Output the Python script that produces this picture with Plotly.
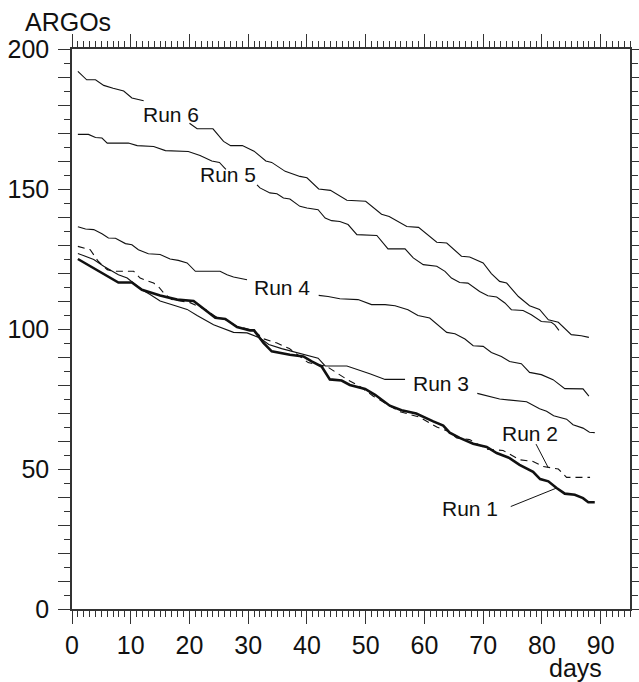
import plotly.graph_objects as go

# ---- data (days, number of ARGO floats) ----
run6_x = [1, 2.5, 4, 5.4, 7, 8.8, 10.2, 12.2, None,
          20, 21.3, 24, 25.8, 27, 29, 31, 33, 34, 36.3, 38.8, 40, 42, 44, 46.8, 50,
          52.7, 54, 57, 59, 62.1, 63.8, 66.3, 67.7, 70, 71.4, 72.8, 74, 76, 77.9,
          79.6, 81.1, 82.8, 85, 86.7, 88]
run6_y = [192, 189, 189, 187, 186, 185, 182.5, 181.5, None,
          173.5, 171.5, 171.5, 167, 165.5, 165.5, 163.5, 160, 159.5, 156.3, 154.5, 154, 150, 149.5, 146, 145.6,
          141, 140.2, 136.6, 136.3, 131, 130.7, 126, 125.7, 123.6, 119.8, 117, 116.4, 111.6, 108.3,
          107, 103.3, 102.4, 98, 97.6, 97]

run5_x = [1, 2.8, 4, 5.1, 6, 9.6, 11.1, 13.9, 15.9, 19.8, 21.8, 23.8, 25.1, 26.2, None,
          31.5, 32, 33.7, 34.9, 36, 37.1, 38.8, 40, 41.9, 43.1, 44.2, 45.6, 47, 48.5, 51.9,
          53.8, 56.7, 58.1, 59.8, 61, 62.1, 63.5, 64.6, 66, 67.4, 69.4, 70.8, 72.3, 73.7,
          74.8, 76.8, 78.2, 79.9, 81.6, 82.2, 82.9]
run5_y = [169.5, 169.5, 168.4, 168.2, 166.4, 166.4, 165.5, 165.2, 163.7, 163.4, 162, 160, 159.5, 157, None,
          151.5, 150.4, 148.6, 148.3, 146.8, 146.4, 143.8, 143.2, 142.6, 139.6, 138.7, 138.4, 137.3, 133.7, 133.4,
          128.6, 128.6, 125.4, 123, 122.6, 122.4, 120.6, 118.2, 116.6, 116.4, 113.4, 111.9, 111.4, 109.3,
          106.9, 106.6, 105.1, 102.7, 102.4, 101.5, 99.5]

run4_x = [1, 2.3, 3.7, 5.1, 6.2, 7.4, 9.1, 10.2, 11.3, 13, 15, 16.7, 18.1, 19.6, 21, 25.2, 26.4, 27.5, 29.8, None,
          42, 43.6, 45.6, 48.7, 51, 53.3, 55, 57.2, 58.9, 60.9, 63.8, 65.2, 66.9, 68.3, 70, 71.4,
          73.1, 74.5, 76.5, 77.9, 79.9, 81.9, 83.9, 87, 88]
run4_y = [136.5, 135.7, 135.5, 134, 132.5, 132.4, 130.5, 130.1, 128.3, 126.9, 126.6, 125, 124.5, 123.6, 120.6, 120.6, 119.4, 118.6, 117.6, None,
          112, 111.6, 110.8, 110.5, 108.7, 108.7, 108.3, 106.9, 104.8, 103.9, 98.8, 98.3, 96.4, 94, 93.8, 91.6,
          90.2, 88.4, 87.6, 84.5, 83.7, 81.9, 78.7, 78.6, 76]

run3_x = [1, 2.3, 3.7, 5.4, 6.5, 7.9, 9.4, 10.5, 11.9, 13.3, 15, 17.6, 19.6, 21.3, 24.1, 27.5, 29.8, 32,
          33.5, 35.7, 38.8, 41.9, 43.1, 46.8, 50.7, 53.3, 56.7, None,
          69, 72.8, 77.4, 79.6, 80.8, 82, 84.2, 85.3, 87, 88.1, 89]
run3_y = [127, 126, 124.8, 122.4, 121.2, 119.4, 118.2, 116.4, 114, 112.3, 110, 108.3, 107, 104.8, 101.5, 98.8, 98.6, 96.8,
          94.5, 93, 91.2, 89.6, 86.8, 86.8, 84, 82, 82, None,
          77, 75, 74, 71.5, 70.6, 69, 67.8, 65.8, 64.6, 63.1, 63]

run2_x = [1, 2.5, 3.1, 4.5, 6, 7.1, 10.5, 11.6, 13.9, 14.7, 15.6, 17, 20, 22.7, 24.4, 26, 28, 30.9,
          32.6, 34.9, 37, 40.2, 43.4, 46.8, 49, 51.3, 53, 55.8, 59.2, 62.1, 64, 65.5, 67.7,
          70.6, 73.4, 76.2, 78.5, 80.2, 82.8, 84.2, 88.2]
run2_y = [129.5, 128.5, 128.3, 124.1, 121.2, 120.6, 120.6, 118.2, 116.4, 115.2, 112.9, 110.5, 109.5, 107, 104.5, 103.5, 101, 99.5,
          96.5, 95, 93, 88, 86.6, 82, 79.5, 76, 74, 70.5, 68.5, 65, 63.5, 61.1, 60.5,
          57.1, 56.6, 53.3, 52.7, 50.9, 50, 47, 47]

run1_x = [1, 3.1, 6.2, 7.9, 10.2, 11.9, 15, 16.2, 17.9, 20.7, 22.7, 24.4, 26.1, 28.1, 30.3, 31, 32.6, 34,
          37.1, 39.4, 40.8, 42.5, 43.9, 45.9, 47.3, 49.9, 51.6, 54.1, 56.1, 58.6, 61.5, 63.2, 64.3,
          66, 68.3, 70.6, 72.3, 74.5, 76.2, 78.5, 79.7, 81.1, 82.5, 83.9, 85.6, 87, 87.9, 89]
run1_y = [125, 122.4, 118.8, 116.6, 116.6, 114, 112, 111.4, 110.5, 110, 106.7, 104, 103.6, 100.7, 99.5, 99.5, 95, 92,
          90.8, 90.2, 88.4, 86.6, 82, 81.6, 80, 78.6, 76.5, 72.6, 71, 69.8, 67, 65.5, 63,
          61.1, 59, 57.9, 55.7, 53.9, 51.5, 49, 46.4, 45.6, 43.2, 41.2, 40.8, 39.6, 38.1, 38.1]

run_labels = ["Run 1", "Run 2", "Run 3", "Run 4", "Run 5", "Run 6"]
label_x = [67.8, 77.9, 62.9, 35.7, 26.6, 16.9]
label_y = [35.8, 62.6, 80.5, 114.9, 155.1, 176.5]
leader_from = [(74.7, 36.6), (79.0, 58.9)]
leader_to = [(82.5, 43.2), (81.1, 50.4)]

y_tickvals = list(range(0, 201, 10))
y_ticktext = [str(v) if v % 50 == 0 else "" for v in y_tickvals]

FONT = "Liberation Sans, Arial, Helvetica, sans-serif"
INK = "#111111"

fig = go.Figure()
thin = dict(color=INK, width=1.1)
for xs, ys in [(run6_x, run6_y), (run5_x, run5_y), (run4_x, run4_y), (run3_x, run3_y)]:
    fig.add_trace(go.Scatter(x=xs, y=ys, mode="lines", line=thin, connectgaps=False,
                             showlegend=False, hoverinfo="skip"))
fig.add_trace(go.Scatter(x=run2_x, y=run2_y, mode="lines",
                         line=dict(color=INK, width=1.1, dash="7px,5px"),
                         showlegend=False, hoverinfo="skip"))
fig.add_trace(go.Scatter(x=run1_x, y=run1_y, mode="lines",
                         line=dict(color=INK, width=2.6),
                         showlegend=False, hoverinfo="skip"))

for t, lx, ly in zip(run_labels, label_x, label_y):
    fig.add_annotation(x=lx, y=ly, xref="x", yref="y", text=t, showarrow=False,
                       font=dict(family=FONT, size=21, color=INK))
for (x0, y0), (x1, y1) in zip(leader_from, leader_to):
    fig.add_shape(type="line", x0=x0, y0=y0, x1=x1, y1=y1, xref="x", yref="y",
                  line=dict(color=INK, width=1))

W, H = 639, 682
ml, mr, mt, mb = 72, 9, 49, 73
pw, ph = W - ml - mr, H - mt - mb

fig.add_annotation(x=(23 - ml) / pw, y=(H - mb - 22) / ph, xref="paper", yref="paper",
                   text="ARGOs", showarrow=False, xanchor="left", yanchor="middle",
                   font=dict(family=FONT, size=25, color=INK))
fig.add_annotation(x=(575 - ml) / pw, y=(H - mb - 668) / ph, xref="paper", yref="paper",
                   text="days", showarrow=False, xanchor="center", yanchor="middle",
                   font=dict(family=FONT, size=25, color=INK))

axis_common = dict(showgrid=False, zeroline=False, showline=True, linecolor="#333333",
                   linewidth=1.5, ticks="outside", tickcolor="#333333", tickwidth=1.2,
                   mirror="allticks", automargin=False,
                   tickfont=dict(family=FONT, size=25, color=INK))

fig.update_xaxes(range=[0, 95], tick0=0, dtick=10, ticklen=13,
                 minor=dict(dtick=1, tick0=0, ticklen=6, ticks="outside", tickcolor="#333333", tickwidth=1),
                 **axis_common)
fig.update_yaxes(range=[0, 200], tickmode="array", tickvals=y_tickvals, ticktext=y_ticktext, ticklen=12,
                 minor=dict(dtick=5, tick0=0, ticklen=6, ticks="outside", tickcolor="#333333", tickwidth=1),
                 ticklabelstandoff=4, **axis_common)

fig.update_layout(width=W, height=H, margin=dict(l=ml, r=mr, t=mt, b=mb, autoexpand=False),
                  plot_bgcolor="white", paper_bgcolor="white",
                  font=dict(family=FONT, color=INK))

fig.write_html("out.html")
